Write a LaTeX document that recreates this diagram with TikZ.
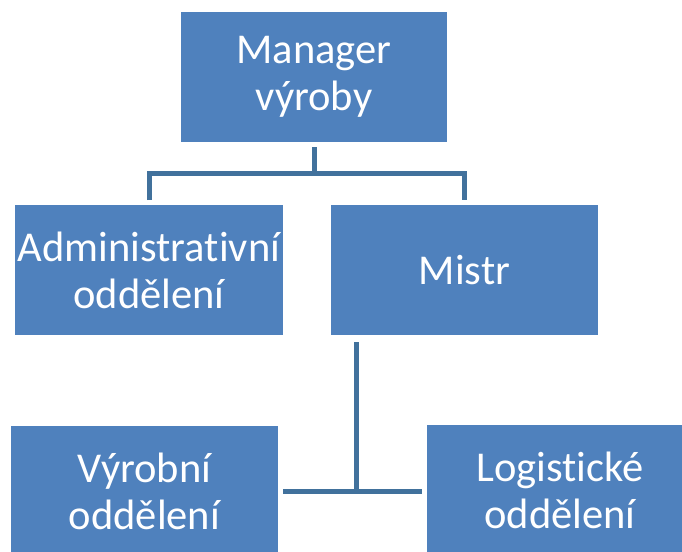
\documentclass[tikz,border=0pt]{standalone}
\usepackage{fontspec}
\setmainfont{Carlito}[Ligatures=NoCommon]
\definecolor{boxfill}{HTML}{4F81BD}
\definecolor{linecol}{HTML}{41719C}
\begin{document}
\begin{tikzpicture}[x=1pt,y=-1pt,
  orgbox/.style={rectangle, fill=boxfill, draw=none, minimum width=267pt, minimum height=130pt,
    inner sep=0pt, text=white, align=center,
    font=\fontsize{42.5}{47}\selectfont},
  conn/.style={draw=linecol, line width=5pt}]
\useasboundingbox (0,0) rectangle (682,551);
\begin{scope}
\clip (0,0) rectangle (682,551);
\node[orgbox, minimum width=266pt, minimum height=130pt] (mgr) at (314,77) {Manager\\výroby};
\node[orgbox, minimum width=268pt] (adm) at (149,270) {Administrativní\\oddělení};
\node[orgbox, minimum width=267pt] (mst) at (464.5,270) {Mistr};
\node[orgbox, minimum width=267pt] (vyr) at (144.5,491) {Výrobní\\oddělení};
\node[orgbox, minimum width=266pt] (log) at (560,490) {Logistické\\oddělení};
\end{scope}
% connectors
\coordinate (j1) at (mgr.south |- 0,173.5);
\coordinate (m1) at (mgr.south |- 0,147);
\coordinate (a1) at (adm.north |- 0,200);
\coordinate (s1) at (mst.north |- 0,200);
\draw[conn] (m1) -- (j1);
\draw[conn] (a1) |- (j1) -| (s1);
\coordinate (j2) at (356,491.5);
\coordinate (t2) at (356,342);
\coordinate (l2) at (283,491.5);
\coordinate (r2) at (422,491.5);
\draw[conn] (t2) -- (j2);
\draw[conn] (l2) -- (r2);
\end{tikzpicture}
\end{document}
